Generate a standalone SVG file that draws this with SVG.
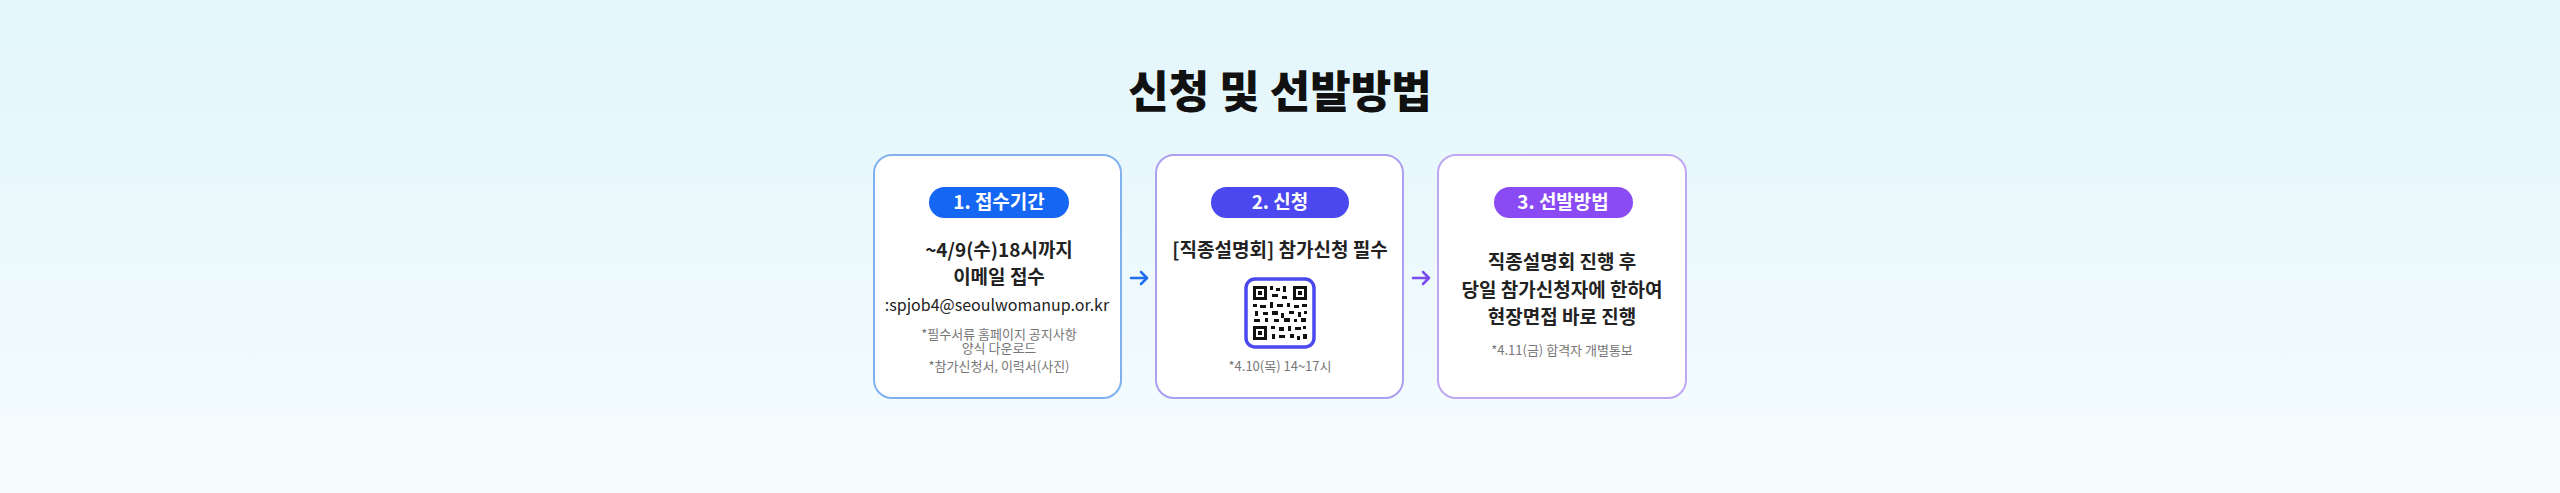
<svg xmlns="http://www.w3.org/2000/svg" width="2560" height="493" viewBox="0 0 2560 493">
<defs>
<linearGradient id="bg" x1="0" y1="0" x2="0" y2="1"><stop offset="0" stop-color="#e2f6fb"/><stop offset="1" stop-color="#f6fcfe"/></linearGradient>
</defs>
<style>
text{font-family:"Noto Sans CJK KR","Noto Sans",sans-serif;text-anchor:middle}
.box{fill:#fff;stroke-width:2}
.pill{font-size:19px;font-weight:700;fill:#fff}
.b{font-size:19px;font-weight:700;fill:#222}
.m{font-size:16px;fill:#222}
.s{font-size:13px;fill:#777}
.arr{fill:none;stroke-width:2.5;stroke-linecap:round;stroke-linejoin:round}
</style>
<rect width="2560" height="493" fill="url(#bg)"/>
<text x="1280" y="108" style="font-size:44px;font-weight:900;fill:#111">신청 및 선발방법</text>
<g id="node1">
<rect class="box" x="874" y="155" width="247" height="243" rx="18" stroke="#80b1ee"/>
<rect x="929" y="187" width="140" height="31" rx="15.5" fill="#1466f3"/>
<text class="pill" x="999" y="209">1. 접수기간</text>
<text class="b" x="999" y="257">~4/9(수)18시까지</text>
<text class="b" x="999" y="284">이메일 접수</text>
<text class="m" x="997" y="311">:spjob4@seoulwomanup.or.kr</text>
<text class="s" x="999" y="339">*필수서류 홈페이지 공지사항</text>
<text class="s" x="999" y="353">양식 다운로드</text>
<text class="s" x="999" y="371">*참가신청서, 이력서(사진)</text>
</g>
<g id="node2">
<rect class="box" x="1156" y="155" width="247" height="243" rx="18" stroke="#aaa0ef"/>
<rect x="1211" y="187" width="138" height="31" rx="15.5" fill="#4c48ef"/>
<text class="pill" x="1280" y="209">2. 신청</text>
<text class="b" x="1280" y="257">[직종설명회] 참가신청 필수</text>
<rect x="1246" y="279" width="68" height="68" rx="9" fill="#fff" stroke="#4c48ef" stroke-width="3.5"/>
<g fill="#111">
<rect x="1253" y="286" width="14" height="14"/><rect x="1256" y="289" width="8" height="8" fill="#fff"/><rect x="1258" y="291" width="4" height="4"/>
<rect x="1293" y="286" width="14" height="14"/><rect x="1296" y="289" width="8" height="8" fill="#fff"/><rect x="1298" y="291" width="4" height="4"/>
<rect x="1253" y="326" width="14" height="14"/><rect x="1256" y="329" width="8" height="8" fill="#fff"/><rect x="1258" y="331" width="4" height="4"/>
<rect x="1270" y="286" width="3" height="4"/><rect x="1276" y="288" width="4" height="3"/><rect x="1283" y="286" width="3" height="6"/><rect x="1272" y="294" width="6" height="3"/><rect x="1282" y="296" width="5" height="3"/>
<rect x="1253" y="304" width="4" height="3"/><rect x="1260" y="305" width="6" height="3"/><rect x="1270" y="302" width="3" height="6"/><rect x="1277" y="304" width="6" height="3"/><rect x="1287" y="303" width="3" height="4"/><rect x="1294" y="305" width="5" height="3"/><rect x="1302" y="304" width="5" height="3"/>
<rect x="1255" y="311" width="3" height="5"/><rect x="1263" y="312" width="5" height="3"/><rect x="1272" y="311" width="6" height="4"/><rect x="1281" y="313" width="3" height="5"/><rect x="1289" y="311" width="5" height="3"/><rect x="1298" y="312" width="3" height="5"/><rect x="1304" y="311" width="3" height="3"/>
<rect x="1254" y="319" width="6" height="3"/><rect x="1265" y="318" width="3" height="4"/><rect x="1274" y="319" width="5" height="3"/><rect x="1284" y="318" width="6" height="4"/><rect x="1294" y="319" width="3" height="3"/><rect x="1301" y="318" width="5" height="4"/>
<rect x="1271" y="326" width="4" height="3"/><rect x="1279" y="327" width="5" height="4"/><rect x="1288" y="326" width="3" height="5"/><rect x="1295" y="327" width="6" height="3"/><rect x="1303" y="326" width="3" height="3"/>
<rect x="1272" y="334" width="3" height="5"/><rect x="1279" y="335" width="6" height="3"/><rect x="1290" y="334" width="4" height="4"/><rect x="1297" y="336" width="3" height="4"/><rect x="1303" y="334" width="4" height="5"/>
</g>
<text class="s" x="1280" y="371">*4.10(목) 14~17시</text>
</g>
<g id="node3">
<rect class="box" x="1438" y="155" width="248" height="243" rx="18" stroke="#c0a7f1"/>
<rect x="1494" y="187" width="139" height="31" rx="15.5" fill="#8a4bf4"/>
<text class="pill" x="1563" y="209">3. 선발방법</text>
<text class="b" x="1562" y="269">직종설명회 진행 후</text>
<text class="b" x="1562" y="297">당일 참가신청자에 한하여</text>
<text class="b" x="1562" y="324">현장면접 바로 진행</text>
<text class="s" x="1562" y="355">*4.11(금) 합격자 개별통보</text>
</g>
<g id="connectors">
<path class="arr" stroke="#1f6ef0" d="M1131 278 H1147 M1141 272 L1147 278 L1141 284"/>
<path class="arr" stroke="#7a4af0" d="M1413 278 H1429 M1423 272 L1429 278 L1423 284"/>
</g>
</svg>
